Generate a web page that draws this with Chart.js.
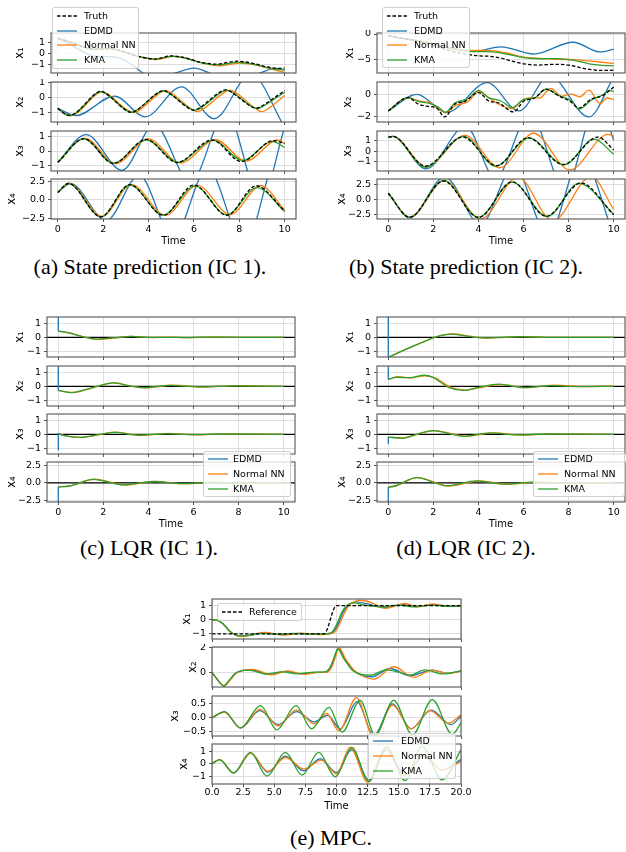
<!DOCTYPE html>
<html>
<head>
<meta charset="utf-8">
<title>State prediction, LQR and MPC</title>
<script src="https://cdn.jsdelivr.net/npm/chart.js@4.4.1/dist/chart.umd.min.js"></script>
<style>
html,body{margin:0;padding:0;background:#fff;}
body{position:relative;width:626px;height:852px;overflow:hidden;font-family:"DejaVu Sans",sans-serif;}
.box{position:absolute;}
.box canvas{display:block;}
.cap{position:absolute;font-family:"Liberation Serif","Times New Roman",serif;font-size:22px;line-height:22px;white-space:nowrap;color:#000;transform:translateX(-50%);}
.leg{position:absolute;background:rgba(255,255,255,0.8);border:1px solid rgba(200,200,200,0.85);border-radius:3px;box-sizing:border-box;z-index:5;}
.leg .it{position:absolute;left:0;height:12px;line-height:12px;font-size:9.5px;color:#000;white-space:nowrap;}
.leg svg{position:absolute;left:4px;top:4px;}
.leg .tx{position:absolute;top:0;}
</style>
</head>
<body>
<script>
// ---------------- tick values / labels ----------------
const xTicks10 = [0, 2, 4, 6, 8, 10];
const xLabels10 = ['0', '2', '4', '6', '8', '10'];
const xTicks20 = [0, 2.5, 5, 7.5, 10, 12.5, 15, 17.5, 20];
const xLabels20 = ['0.0', '2.5', '5.0', '7.5', '10.0', '12.5', '15.0', '17.5', '20.0'];
const yTicksPM1 = [-1, 0, 1];
const yLabelsPM1 = ['\u22121', '0', '1'];
const yTicks25 = [-2.5, 0, 2.5];
const yLabels25 = ['\u22122.5', '0.0', '2.5'];
const yTicksB1 = [-5, 0];
const yLabelsB1 = ['\u22125', '0'];
const yTicksB2 = [-2, 0];
const yLabelsB2 = ['\u22122', '0'];
const yTicksE2 = [0, 2];
const yLabelsE2 = ['0', '2'];
const yTicksE3 = [-0.5, 0, 0.5];
const yLabelsE3 = ['\u22120.5', '0.0', '0.5'];
const stateLabels = ['x\u2081', 'x\u2082', 'x\u2083', 'x\u2084'];
const seriesNames = {truth: 'Truth', edmd: 'EDMD', nn: 'Normal NN', kma: 'KMA', ref: 'Reference'};

// ---------------- (a) State prediction IC 1  : [time, value] ----------------
const aX1Truth = [[0,1.42],[0.5,1.12],[1,0.72],[1.6,0.4],[2.3,0.47],[3,0.12],[3.6,-0.3],[4.3,-0.52],[5.0,-0.22],[5.6,-0.4],[6.3,-0.82],[7.0,-1.0],[7.9,-0.72],[8.6,-0.92],[9.2,-1.25],[9.75,-1.4],[10,-1.37]];
const aX1Kma = [[0,1.42],[0.5,1.12],[1,0.72],[1.6,0.4],[2.3,0.46],[3,0.1],[3.6,-0.3],[4.3,-0.53],[5.05,-0.26],[5.6,-0.42],[6.3,-0.85],[7.05,-1.06],[7.95,-0.84],[8.6,-1.0],[9.2,-1.3],[9.8,-1.52],[10,-1.52]];
const aX1Nn = [[0,1.42],[0.5,1.12],[1,0.72],[1.6,0.4],[2.3,0.45],[3,0.08],[3.6,-0.32],[4.35,-0.56],[5.1,-0.27],[5.7,-0.45],[6.4,-0.9],[7.15,-1.15],[8.05,-0.9],[8.7,-1.07],[9.3,-1.4],[10,-1.78]];
const aX1Edmd = [[0,1.42],[0.5,0.9],[1,0.3],[1.6,-0.25],[2.4,-0.3],[2.9,-0.6],[3.3,-1.1],[3.76,-1.83],[4.6,-2.15],[5.2,-1.83],[6.0,-1.37],[6.7,-1.83],[7.7,-2.7],[8.9,-1.83],[9.6,-1.4],[10,-1.55]];

const aX2Truth = [[0,-0.73],[0.3,-1.08],[0.5,-1.2],[0.75,-1.08],[1.7,0.3],[1.9,0.42],[2.1,0.3],[3.05,-0.9],[3.25,-1.0],[3.45,-0.88],[4.45,0.37],[4.65,0.48],[4.85,0.36],[5.8,-0.75],[6.0,-0.85],[6.2,-0.74],[7.2,0.42],[7.4,0.52],[7.6,0.41],[8.55,-0.62],[8.75,-0.72],[8.95,-0.6],[10,0.47]];
const aX2Kma = [[0,-0.73],[0.3,-1.1],[0.5,-1.22],[0.75,-1.1],[1.7,0.28],[1.9,0.4],[2.1,0.28],[3.05,-0.9],[3.25,-1.0],[3.45,-0.88],[4.45,0.34],[4.65,0.45],[4.85,0.34],[5.85,-0.76],[6.05,-0.86],[6.25,-0.75],[7.25,0.4],[7.45,0.5],[7.65,0.39],[8.6,-0.65],[8.8,-0.75],[9.0,-0.63],[10,0.36]];
const aX2Nn = [[0,-0.73],[0.3,-1.1],[0.55,-1.22],[0.8,-1.1],[1.75,0.28],[1.95,0.4],[2.15,0.28],[3.15,-0.92],[3.35,-1.02],[3.55,-0.9],[4.55,0.37],[4.75,0.48],[4.95,0.36],[5.95,-0.84],[6.15,-0.95],[6.35,-0.83],[7.4,0.4],[7.6,0.5],[7.8,0.38],[8.8,-0.83],[9.0,-0.95],[9.2,-0.82],[10,0.14]];
const aX2Edmd = [[0,-0.73],[0.8,-1.22],[2.5,0.1],[3.85,-1.3],[5.45,0.72],[6.9,-1.43],[8.5,1.6],[10,-2.0]];

const aX3Truth = [[0,-0.8],[1.15,0.88],[2.45,-0.88],[3.9,0.82],[5.25,-0.82],[6.8,0.78],[8.1,-0.75],[9.5,0.74],[10,0.55]];
const aX3Kma = [[0,-0.8],[1.15,0.86],[2.45,-0.86],[3.9,0.8],[5.3,-0.8],[6.85,0.75],[8.15,-0.68],[9.45,0.68],[10,0.25]];
const aX3Nn = [[0,-0.8],[1.2,0.9],[2.55,-0.9],[4.0,0.86],[5.4,-0.86],[6.95,0.8],[8.3,-0.72],[9.7,0.78],[10,0.52]];
const aX3Edmd = [[0,-0.8],[1.25,1.16],[2.83,-1.37],[4.25,1.85],[5.85,-2.2],[7.42,2.75],[8.95,-3.5],[10,1.7]];

const aX4Truth = [[0,1.0],[0.47,2.2],[1.9,-2.25],[3.17,2.05],[4.65,-2.05],[6.0,2.0],[7.45,-2.05],[8.75,1.9],[10,-1.5]];
const aX4Kma = [[0,1.0],[0.47,2.2],[1.9,-2.25],[3.17,2.0],[4.65,-2.0],[6.05,1.85],[7.45,-2.0],[8.78,1.65],[10,-1.55]];
const aX4Nn = [[0,1.0],[0.5,2.2],[1.95,-2.2],[3.25,2.05],[4.75,-2.05],[6.15,1.95],[7.6,-1.95],[8.95,1.9],[10,-1.35]];
const aX4Edmd = [[0,1.0],[0.55,2.2],[2.14,-2.75],[3.58,3.3],[5.08,-5.0],[6.6,4.2],[8.22,-6.0],[9.8,6.5],[10,6.2]];

// ---------------- (b) State prediction IC 2 ----------------
const bX1Truth = [[0,-0.3],[0.5,-0.75],[1,-1.15],[1.5,-1.6],[2,-2.25],[2.5,-2.95],[3,-3.55],[3.5,-3.95],[4,-4.25],[4.5,-4.35],[5,-4.7],[5.5,-5.3],[6,-5.8],[6.6,-6.05],[7.4,-5.9],[8,-6.05],[8.5,-6.55],[9,-6.95],[9.5,-7.1],[10,-7.05]];
const bX1Kma = [[0,-0.3],[0.5,-0.75],[1,-1.1],[1.5,-1.5],[2,-2.0],[2.5,-2.6],[3,-3.05],[3.7,-3.45],[4.4,-3.45],[5.2,-3.85],[6,-4.6],[6.7,-4.82],[7.5,-4.78],[8.2,-5.1],[8.9,-5.8],[9.5,-6.1],[10,-6.2]];
const bX1Nn = [[0,-0.3],[0.5,-0.75],[1,-1.1],[1.5,-1.45],[2,-1.95],[2.5,-2.5],[3,-2.95],[3.7,-3.2],[4.4,-3.2],[5.2,-3.65],[6,-4.5],[6.7,-4.75],[7.6,-4.95],[8.2,-5.0],[8.9,-5.25],[9.5,-5.5],[10,-5.75]];
const bX1Edmd = [[0,-0.3],[0.5,-0.7],[1,-1.05],[1.5,-1.4],[2,-1.9],[2.5,-2.4],[3,-2.85],[3.8,-3.4],[5.0,-2.5],[6.45,-3.9],[8.2,-1.6],[9.4,-3.5],[10,-2.95]];

const bX2Truth = [[0,-1.46],[0.87,-0.27],[1.35,-0.86],[1.75,-1.05],[2.15,-1.2],[2.5,-2.0],[2.95,-0.85],[3.4,-0.6],[4.0,0.18],[4.45,-0.56],[4.9,-0.75],[5.55,-1.55],[6.0,-0.6],[6.5,-0.3],[7.0,0.5],[7.55,-0.1],[8.1,-0.65],[8.45,-1.2],[9.0,-0.4],[9.5,-0.1],[10,0.68]];
const bX2Kma = [[0,-1.46],[0.87,-0.27],[1.35,-0.62],[1.85,-0.8],[2.25,-1.15],[2.53,-1.6],[2.95,-0.75],[3.55,-0.35],[4.0,0.38],[4.45,-0.27],[5.0,-0.57],[5.5,-1.16],[6.0,-0.45],[6.5,-0.28],[7.0,0.48],[7.55,-0.06],[8.15,-0.6],[8.45,-1.3],[9.05,-0.42],[9.5,-0.03],[9.8,0.38],[10,0.27]];
const bX2Nn = [[0,-1.46],[0.87,-0.27],[1.35,-0.57],[1.85,-0.72],[2.53,-1.6],[2.95,-1.0],[3.55,-0.62],[4.0,0.27],[4.45,-0.27],[4.9,-0.86],[5.5,-1.25],[6.0,-0.42],[6.4,-0.27],[6.7,-0.33],[7.2,0.55],[7.7,-0.15],[8.1,0.05],[8.5,-0.2],[8.9,0.4],[9.4,-0.8],[9.7,-0.3],[10,-0.45]];
const bX2Edmd = [[0,-1.46],[1.27,0.03],[2.6,-1.6],[4.39,1.07],[5.8,-1.46],[7.15,1.7],[8.9,-2.0],[10,1.6]];

const bX3Truth = [[0,1.27],[0.2,1.36],[1.65,-1.4],[3.3,1.3],[4.8,-1.35],[6.2,1.25],[7.75,-1.25],[9.3,1.3],[10,0.1]];
const bX3Kma = [[0,1.27],[0.2,1.36],[1.64,-1.5],[3.35,1.36],[4.76,-1.4],[6.24,1.2],[7.8,-1.27],[9.13,1.1],[10,-0.3]];
const bX3Nn = [[0,1.27],[0.2,1.36],[1.7,-1.45],[3.4,1.45],[4.95,-1.55],[6.45,1.65],[8.05,-1.75],[9.75,1.55],[10,1.35]];
const bX3Edmd = [[0,1.27],[0.2,1.36],[1.68,-1.65],[3.43,2.3],[4.75,-2.5],[6.28,3.4],[7.83,-3.5],[9.31,4.7],[10,1.0]];

const bX4Truth = [[0,1.0],[0.95,-3.0],[2.45,3.05],[4.0,-3.05],[5.5,2.9],[7.0,-2.85],[8.55,2.7],[10,-2.6]];
const bX4Kma = [[0,1.0],[0.95,-3.0],[2.46,3.16],[4.0,-3.0],[5.5,2.87],[7.05,-2.87],[8.46,2.64],[10,-2.5]];
const bX4Nn = [[0,1.0],[0.95,-3.0],[2.5,3.1],[4.1,-3.3],[5.75,3.7],[7.3,-3.6],[9.0,3.8],[10,-1.7]];
const bX4Edmd = [[0,1.0],[0.95,-3.1],[2.5,3.7],[4.09,-4.2],[5.57,5.5],[7.08,-6.0],[8.57,7.0],[10,-6.0]];

// ---------------- (c) LQR IC 1 ----------------
const zeroRef = [[-0.5,0],[10.5,0]];
const cX1Kma = [[0,0.45],[0.5,0.3],[1,0.08],[1.7,-0.14],[2.4,-0.05],[3.2,0.06],[4,-0.01],[4.8,0.0],[5.6,-0.02],[6.5,0.01],[8,0],[10,0]];
const cX1Nn = [[0,0.45],[0.5,0.31],[1,0.09],[1.8,-0.15],[2.5,-0.05],[3.3,0.07],[4.1,-0.02],[4.9,0.01],[5.8,-0.03],[6.7,0.01],[8,0],[10,0]];
const cX1Edmd = [[0,0.45],[0.005,60]];
const cX2Kma = [[0,-0.3],[0.6,-0.46],[1.2,-0.25],[1.85,0.05],[2.45,0.25],[3.1,0.05],[3.75,-0.1],[4.95,0.07],[6.3,-0.05],[7.7,0.03],[10,0]];
const cX2Nn = [[0,-0.32],[0.6,-0.45],[1.25,-0.24],[1.9,0.06],[2.5,0.27],[3.15,0.04],[3.85,-0.11],[5.1,0.08],[6.4,-0.06],[7.9,0.04],[10,0]];
const cX2Edmd = [[0,-0.3],[0.005,60]];
const cX3Kma = [[0,0.07],[0.15,-0.05],[1.0,-0.22],[1.85,0.0],[2.5,0.14],[3.6,-0.07],[4.8,0.05],[6.0,-0.03],[7.2,0.02],[10,0]];
const cX3Nn = [[0,0.07],[0.15,-0.05],[1.0,-0.22],[1.9,0.0],[2.55,0.15],[3.7,-0.08],[4.9,0.06],[6.1,-0.04],[7.4,0.02],[10,0]];
const cX3Edmd = [[0,0.07],[0.005,-1.15]];
const cX4Kma = [[0,-0.58],[0.5,-0.45],[1.55,0.5],[2.9,-0.3],[4.2,0.2],[5.5,-0.1],[6.85,0.05],[8,-0.02],[10,0]];
const cX4Nn = [[0,-0.58],[0.5,-0.44],[1.6,0.52],[3.0,-0.32],[4.3,0.22],[5.6,-0.12],[7.0,0.06],[8.2,-0.02],[10,0]];
const cX4Edmd = [[0,-0.58],[0.005,-60]];

// ---------------- (d) LQR IC 2 ----------------
const dX1Kma = [[0,-1.45],[0.5,-1.08],[1,-0.72],[1.5,-0.38],[2.05,0],[2.8,0.23],[3.5,0.08],[4.2,-0.05],[5.0,0.0],[5.8,0.04],[7,0],[10,0]];
const dX1Nn = [[0,-1.45],[0.5,-1.08],[1,-0.72],[1.5,-0.37],[2.1,0.02],[2.9,0.25],[3.6,0.08],[4.4,-0.06],[5.2,0.0],[6.0,0.04],[7.2,0],[10,0]];
const dX1Edmd = [[0,-1.45],[0.005,60]];
const dX2Kma = [[0,0.5],[0.35,0.65],[0.95,0.62],[1.6,0.8],[2.0,0.63],[2.7,-0.1],[3.35,-0.3],[3.95,-0.1],[4.9,0.15],[6.0,-0.1],[7.2,0.05],[8.5,-0.02],[10,0]];
const dX2Nn = [[0,0.5],[0.4,0.7],[1.0,0.6],[1.6,0.75],[2.1,0.6],[2.8,-0.1],[3.45,-0.28],[4.05,-0.1],[5.0,0.12],[6.2,-0.1],[7.4,0.08],[8.8,-0.02],[10,0.03]];
const dX2Edmd = [[0,0.5],[0.005,60]];
const dX3Kma = [[0,-0.2],[0.65,-0.28],[1.26,0.0],[2.0,0.27],[2.7,0.05],[3.35,-0.15],[4.5,0.1],[5.7,-0.05],[7,0.02],[10,0]];
const dX3Nn = [[0,-0.2],[0.65,-0.28],[1.3,0.0],[2.05,0.27],[2.8,0.04],[3.45,-0.14],[4.65,0.1],[5.9,-0.06],[7.2,0.03],[10,0]];
const dX3Edmd = [[0,-0.2],[0.005,-0.7]];
const dX4Kma = [[0,-0.6],[0.3,-0.45],[1.26,0.75],[2.6,-0.43],[3.9,0.28],[5.2,-0.19],[6.45,0.1],[7.8,-0.04],[10,0]];
const dX4Nn = [[0,-0.6],[0.3,-0.45],[1.3,0.76],[2.7,-0.45],[4.05,0.3],[5.35,-0.2],[6.65,0.12],[8.0,-0.04],[10,0]];
const dX4Edmd = [[0,-0.6],[0.005,-60]];

// ---------------- (e) MPC ----------------
const eX1Ref = [[0,-1],[9,-1],[10,1],[20,1]];
const eX1Kma = [[0,0],[0.4,-0.03],[0.9,-0.3],[1.4,-0.8],[1.9,-1.08],[2.3,-1.15],[3.0,-1.1],[4.0,-0.97],[5.2,-1.04],[6.6,-0.97],[7.8,-1.03],[8.8,-1.0],[9.5,-0.95],[9.8,-0.7],[10.05,-0.26],[10.45,0.56],[10.85,1.03],[11.4,1.2],[12.3,1.03],[13.6,0.92],[15.0,1.04],[16.1,0.92],[17.7,1.04],[19,0.94],[20,0.96]];
const eX1Nn = [[0,0],[0.4,-0.03],[0.9,-0.3],[1.4,-0.8],[1.9,-1.1],[2.4,-1.2],[3.2,-1.08],[4.2,-0.9],[5.8,-1.1],[7.2,-0.95],[8.6,-1.05],[9.5,-1.0],[9.9,-0.85],[10.25,-0.3],[10.65,0.5],[11.05,1.05],[11.5,1.3],[11.9,1.38],[12.8,1.22],[13.9,0.8],[15.5,1.15],[16.5,0.92],[17.7,1.13],[19,0.95],[20,1.0]];
const eX1Edmd = [[0,0],[0.4,-0.03],[0.9,-0.3],[1.4,-0.8],[1.9,-1.09],[2.35,-1.17],[3.1,-1.1],[4.1,-0.95],[5.6,-1.05],[7.0,-0.97],[8.6,-1.03],[9.5,-0.98],[9.85,-0.75],[10.15,-0.28],[10.55,0.55],[10.95,1.03],[11.6,1.27],[12.6,1.1],[13.8,0.86],[15.3,1.08],[16.4,0.92],[17.7,1.07],[19,0.95],[20,0.98]];

const eX2Kma = [[0,0],[0.3,-0.4],[0.94,-1.08],[1.4,-0.6],[1.9,-0.05],[2.9,0.18],[4.4,-0.13],[5.6,0.05],[6.9,-0.1],[8.2,0.02],[9.1,0.05],[9.5,0.45],[9.8,1.2],[10.1,1.9],[10.6,1.1],[11.3,0.15],[12.1,-0.18],[12.7,-0.22],[14.0,0.2],[15.0,0.02],[15.9,-0.22],[17.1,0.2],[18.5,-0.12],[20,0.13]];
const eX2Nn = [[0,0],[0.3,-0.4],[1.0,-1.1],[1.45,-0.62],[1.95,-0.05],[3.3,0.25],[4.8,-0.2],[6.1,0.12],[7.4,-0.15],[8.6,0.0],[9.2,0.0],[9.6,0.4],[9.9,1.2],[10.2,2.0],[10.7,1.15],[11.4,0.2],[12.2,-0.35],[13.0,-0.54],[14.6,0.46],[16.2,-0.4],[17.7,0.19],[19.0,-0.1],[20,0.1]];
const eX2Edmd = [[0,0],[0.3,-0.4],[0.97,-1.09],[1.45,-0.6],[1.95,-0.05],[3.1,0.2],[4.6,-0.16],[5.9,0.08],[7.2,-0.12],[8.4,0.01],[9.15,0.03],[9.55,0.42],[9.85,1.2],[10.15,1.95],[10.65,1.1],[11.35,0.17],[12.1,-0.25],[12.85,-0.35],[14.3,0.32],[15.9,-0.27],[17.7,0.19],[19.0,-0.08],[20,0.12]];

const eX3Kma = [[0,0],[1.0,0.22],[2.28,-0.37],[3.9,0.43],[5.2,-0.44],[6.75,0.43],[8.0,-0.4],[9.4,0.37],[10.45,-0.52],[11.9,0.62],[13.1,-0.62],[14.6,0.62],[16.1,-0.62],[17.7,0.65],[19.3,-0.6],[20,-0.19]];
const eX3Nn = [[0,0],[1.0,0.2],[2.3,-0.37],[3.85,0.3],[5.3,-0.3],[6.8,0.28],[8.2,-0.22],[9.2,0.15],[10.2,-0.47],[11.6,0.72],[13.0,-0.72],[14.5,0.45],[16.0,-0.4],[17.5,0.25],[19.0,-0.2],[20,0.1]];
const eX3Edmd = [[0,0],[1.0,0.2],[2.3,-0.37],[3.85,0.25],[5.3,-0.25],[6.8,0.22],[8.2,-0.15],[9.3,0.08],[10.3,-0.4],[11.65,0.58],[13.0,-0.65],[14.5,0.5],[16.0,-0.4],[17.6,0.27],[19.2,-0.25],[20,0.05]];

const eX4Kma = [[0,0],[0.6,0.33],[1.74,-0.72],[3.08,0.9],[4.42,-0.97],[5.9,0.9],[7.23,-0.9],[8.57,0.9],[9.9,-1.03],[11.25,1.28],[12.6,-1.41],[14.05,1.33],[15.5,-1.33],[16.87,1.4],[18.47,-1.28],[20,1.1]];
const eX4Nn = [[0,0],[0.6,0.33],[1.75,-0.72],[3.1,0.85],[4.5,-0.6],[5.9,0.5],[7.4,-0.4],[8.8,0.3],[10.0,-0.8],[11.1,1.33],[12.5,-1.46],[13.9,1.15],[15.5,-0.95],[17.0,0.75],[18.5,-0.5],[20,0.18]];
const eX4Edmd = [[0,0],[0.6,0.33],[1.75,-0.72],[3.1,0.85],[4.5,-0.65],[5.9,0.6],[7.35,-0.55],[8.7,0.4],[10.0,-0.7],[11.2,1.1],[12.6,-1.3],[14.0,1.1],[15.5,-0.85],[17.0,0.6],[18.5,-0.5],[20,0.35]];

// ---------------- styling ----------------
const STYLE = {
  truth: {color: '#000000', dash: [3.5, 2], width: 1.3},
  ref:   {color: '#000000', dash: [3.5, 2], width: 1.3},
  zero:  {color: '#000000', dash: [], width: 1.2},
  edmd:  {color: '#1f77b4', dash: [], width: 1.3},
  nn:    {color: '#ff7f0e', dash: [], width: 1.3},
  kma:   {color: '#2ca02c', dash: [], width: 1.3}
};
Chart.defaults.font.family = '"DejaVu Sans", sans-serif';

const framePlugin = {
  id: 'frame',
  afterDatasetsDraw(chart) {
    const a = chart.chartArea, c = chart.ctx;
    c.save();
    c.strokeStyle = '#555555';
    c.lineWidth = 1.1;
    c.strokeRect(a.left, a.top, a.right - a.left, a.bottom - a.top);
    c.restore();
  }
};

function dataset(kind, pts) {
  const s = STYLE[kind];
  return {
    label: seriesNames[kind] || kind,
    data: pts.map(p => ({x: p[0], y: p[1]})),
    borderColor: s.color, backgroundColor: s.color,
    borderWidth: s.width, borderDash: s.dash,
    pointRadius: 0, fill: false,
    cubicInterpolationMode: kind === 'zero' ? 'default' : 'monotone',
    tension: 0
  };
}

function makeSub(P, k) {
  const S = P.subs[k];
  const bottom = (k === P.subs.length - 1);
  const padT = 3, padR = 14;
  const xh = bottom ? P.xh : 5;
  const div = document.createElement('div');
  div.className = 'box';
  div.style.left = (P.L - S.yw) + 'px';
  div.style.top = (P.tops[k] - padT) + 'px';
  div.style.width = (S.yw + P.W + padR) + 'px';
  div.style.height = (padT + P.H + xh) + 'px';
  const cv = document.createElement('canvas');
  div.appendChild(cv);
  document.body.appendChild(div);
  const tickFont = {family: '"DejaVu Sans", sans-serif', size: 9.5};
  const grid = {color: '#dedede', lineWidth: 1, drawTicks: true, tickLength: 3, tickColor: '#555555', tickWidth: 1};
  new Chart(cv, {
    type: 'line',
    data: {datasets: S.series.map(s => dataset(s[0], s[1]))},
    options: {
      responsive: true, maintainAspectRatio: false, animation: false, devicePixelRatio: 1,
      layout: {padding: {top: padT, right: padR, left: 0, bottom: 0}},
      plugins: {legend: {display: false}, tooltip: {enabled: false}},
      elements: {line: {capBezierPoints: false}, point: {radius: 0}},
      events: [],
      scales: {
        x: {
          type: 'linear', min: P.xmin, max: P.xmax,
          afterBuildTicks: s => { s.ticks = P.xticks.map(v => ({value: v})); },
          afterFit: s => { s.height = xh; s.paddingLeft = 0; s.paddingRight = 0; },
          ticks: {display: bottom, autoSkip: false, maxRotation: 0, minRotation: 0, padding: P.xpad, color: '#000', font: tickFont,
                  callback: (v, i) => P.xlabels[i]},
          grid: grid, border: {display: false},
          title: {display: bottom, text: 'Time', padding: 0, color: '#000', font: {family: '"DejaVu Sans", sans-serif', size: 10}}
        },
        y: {
          type: 'linear', min: S.ymin, max: S.ymax,
          afterBuildTicks: s => { s.ticks = S.yt.map(v => ({value: v})); },
          afterFit: s => { s.width = S.yw; s.paddingTop = 0; s.paddingBottom = 0; },
          ticks: {autoSkip: false, padding: 3, color: '#000', font: tickFont, callback: (v, i) => S.yl[i]},
          grid: grid, border: {display: false},
          title: {display: true, text: stateLabels[k], padding: 0, color: '#000', font: {family: '"DejaVu Sans", sans-serif', size: 11.5}}
        }
      }
    },
    plugins: [framePlugin]
  });
}

// ---------------- figure layout ----------------
const panels = [
  {L: 51, W: 245, xmin: -0.3, xmax: 10.5, tops: [33, 82, 131, 179], H: 40, xh: 28, xpad: 2, xticks: xTicks10, xlabels: xLabels10,
   subs: [
    {yw: 38, ymin: -1.83, ymax: 1.93, yt: yTicksPM1, yl: yLabelsPM1, series: [['truth', aX1Truth], ['kma', aX1Kma], ['nn', aX1Nn], ['edmd', aX1Edmd]]},
    {yw: 38, ymin: -1.65, ymax: 1.05, yt: yTicksPM1, yl: yLabelsPM1, series: [['truth', aX2Truth], ['kma', aX2Kma], ['nn', aX2Nn], ['edmd', aX2Edmd]]},
    {yw: 38, ymin: -1.42, ymax: 1.42, yt: yTicksPM1, yl: yLabelsPM1, series: [['truth', aX3Truth], ['kma', aX3Kma], ['nn', aX3Nn], ['edmd', aX3Edmd]]},
    {yw: 46, ymin: -2.55, ymax: 2.8, yt: yTicks25, yl: yLabels25, series: [['truth', aX4Truth], ['kma', aX4Kma], ['nn', aX4Nn], ['edmd', aX4Edmd]]}
   ]},
  {L: 377, W: 248, xmin: -0.5, xmax: 10.5, tops: [33, 82, 131, 179], H: 40, xh: 28, xpad: 2, xticks: xTicks10, xlabels: xLabels10,
   subs: [
    {yw: 34, ymin: -7.6, ymax: 0.2, yt: yTicksB1, yl: yLabelsB1, series: [['truth', bX1Truth], ['kma', bX1Kma], ['nn', bX1Nn], ['edmd', bX1Edmd]]},
    {yw: 36, ymin: -2.45, ymax: 1.13, yt: yTicksB2, yl: yLabelsB2, series: [['truth', bX2Truth], ['kma', bX2Kma], ['nn', bX2Nn], ['edmd', bX2Edmd]]},
    {yw: 36, ymin: -1.85, ymax: 1.86, yt: yTicksPM1, yl: yLabelsPM1, series: [['truth', bX3Truth], ['kma', bX3Kma], ['nn', bX3Nn], ['edmd', bX3Edmd]]},
    {yw: 42, ymin: -3.3, ymax: 3.38, yt: yTicks25, yl: yLabels25, series: [['truth', bX4Truth], ['kma', bX4Kma], ['nn', bX4Nn], ['edmd', bX4Edmd]]}
   ]},
  {L: 47, W: 248, xmin: -0.5, xmax: 10.5, tops: [317, 366, 414, 462], H: 40, xh: 28, xpad: 2, xticks: xTicks10, xlabels: xLabels10,
   subs: [
    {yw: 34, ymin: -1.43, ymax: 1.47, yt: yTicksPM1, yl: yLabelsPM1, series: [['edmd', cX1Edmd], ['kma', cX1Kma], ['nn', cX1Nn], ['zero', zeroRef]]},
    {yw: 34, ymin: -1.43, ymax: 1.47, yt: yTicksPM1, yl: yLabelsPM1, series: [['edmd', cX2Edmd], ['kma', cX2Kma], ['nn', cX2Nn], ['zero', zeroRef]]},
    {yw: 34, ymin: -1.43, ymax: 1.47, yt: yTicksPM1, yl: yLabelsPM1, series: [['edmd', cX3Edmd], ['kma', cX3Kma], ['nn', cX3Nn], ['zero', zeroRef]]},
    {yw: 42, ymin: -2.75, ymax: 3.0, yt: yTicks25, yl: yLabels25, series: [['edmd', cX4Edmd], ['kma', cX4Kma], ['nn', cX4Nn], ['zero', zeroRef]]}
   ]},
  {L: 377, W: 248, xmin: -0.5, xmax: 10.5, tops: [317, 366, 414, 462], H: 40, xh: 28, xpad: 2, xticks: xTicks10, xlabels: xLabels10,
   subs: [
    {yw: 34, ymin: -1.43, ymax: 1.47, yt: yTicksPM1, yl: yLabelsPM1, series: [['edmd', dX1Edmd], ['kma', dX1Kma], ['nn', dX1Nn], ['zero', zeroRef]]},
    {yw: 34, ymin: -1.43, ymax: 1.47, yt: yTicksPM1, yl: yLabelsPM1, series: [['edmd', dX2Edmd], ['kma', dX2Kma], ['nn', dX2Nn], ['zero', zeroRef]]},
    {yw: 34, ymin: -1.43, ymax: 1.47, yt: yTicksPM1, yl: yLabelsPM1, series: [['edmd', dX3Edmd], ['kma', dX3Kma], ['nn', dX3Nn], ['zero', zeroRef]]},
    {yw: 42, ymin: -2.75, ymax: 3.0, yt: yTicks25, yl: yLabels25, series: [['edmd', dX4Edmd], ['kma', dX4Kma], ['nn', dX4Nn], ['zero', zeroRef]]}
   ]},
  {L: 212, W: 249, xmin: 0, xmax: 20, tops: [599, 647, 696, 744], H: 40, xh: 28, xpad: 0, xticks: xTicks20, xlabels: xLabels20,
   subs: [
    {yw: 32, ymin: -1.37, ymax: 1.47, yt: yTicksPM1, yl: yLabelsPM1, series: [['ref', eX1Ref], ['kma', eX1Kma], ['nn', eX1Nn], ['edmd', eX1Edmd]]},
    {yw: 26, ymin: -1.18, ymax: 2.06, yt: yTicksE2, yl: yLabelsE2, series: [['kma', eX2Kma], ['nn', eX2Nn], ['edmd', eX2Edmd]]},
    {yw: 44, ymin: -0.66, ymax: 0.78, yt: yTicksE3, yl: yLabelsE3, series: [['kma', eX3Kma], ['nn', eX3Nn], ['edmd', eX3Edmd]]},
    {yw: 35, ymin: -1.6, ymax: 1.57, yt: yTicksPM1, yl: yLabelsPM1, series: [['kma', eX4Kma], ['nn', eX4Nn], ['edmd', eX4Edmd]]}
   ]}
];
panels.forEach(P => P.subs.forEach((s, k) => makeSub(P, k)));

// ---------------- legends ----------------
const legends = [
  {left: 52, top: 7, w: 87, h: 62, y0: 8.7, dy: 14.8, tx: 31, kinds: ['truth', 'edmd', 'nn', 'kma']},
  {left: 382, top: 7, w: 88, h: 61, y0: 8.7, dy: 14.8, tx: 31, kinds: ['truth', 'edmd', 'nn', 'kma']},
  {left: 203, top: 451, w: 88, h: 46, y0: 8, dy: 15, tx: 29, kinds: ['edmd', 'nn', 'kma']},
  {left: 533, top: 451, w: 92, h: 46, y0: 8, dy: 15, tx: 30, kinds: ['edmd', 'nn', 'kma']},
  {left: 217, top: 603, w: 85, h: 18, y0: 8.7, dy: 15, tx: 31, kinds: ['ref']},
  {left: 368, top: 733, w: 88, h: 46, y0: 7.7, dy: 15, tx: 32, kinds: ['edmd', 'nn', 'kma']}
];
legends.forEach(Lg => {
  const d = document.createElement('div');
  d.className = 'leg';
  d.style.left = Lg.left + 'px'; d.style.top = Lg.top + 'px';
  d.style.width = Lg.w + 'px'; d.style.height = Lg.h + 'px';
  Lg.kinds.forEach((kd, i) => {
    const s = STYLE[kd];
    const it = document.createElement('div');
    it.className = 'it';
    it.style.top = (Lg.y0 + i * Lg.dy - 6 - 1) + 'px';
    it.style.width = Lg.w + 'px';
    const dash = s.dash.length ? ' stroke-dasharray="' + s.dash.join(',') + '"' : '';
    it.innerHTML = '<svg width="20" height="4"><line x1="0" y1="2" x2="20" y2="2" stroke="' + s.color + '" stroke-width="' + s.width + '"' + dash + '/></svg>' +
      '<span class="tx" style="left:' + Lg.tx + 'px">' + seriesNames[kd] + '</span>';
    d.appendChild(it);
  });
  document.body.appendChild(d);
});

// ---------------- captions ----------------
const captions = [
  {text: '(a) State prediction (IC 1).', x: 150, y: 267},
  {text: '(b) State prediction (IC 2).', x: 466, y: 267},
  {text: '(c) LQR (IC 1).', x: 149, y: 548},
  {text: '(d) LQR (IC 2).', x: 466, y: 548},
  {text: '(e) MPC.', x: 331, y: 838}
];
captions.forEach(c => {
  const d = document.createElement('div');
  d.className = 'cap';
  d.textContent = c.text;
  d.style.left = c.x + 'px';
  d.style.top = (c.y - 11) + 'px';
  document.body.appendChild(d);
});
</script>
</body>
</html>
